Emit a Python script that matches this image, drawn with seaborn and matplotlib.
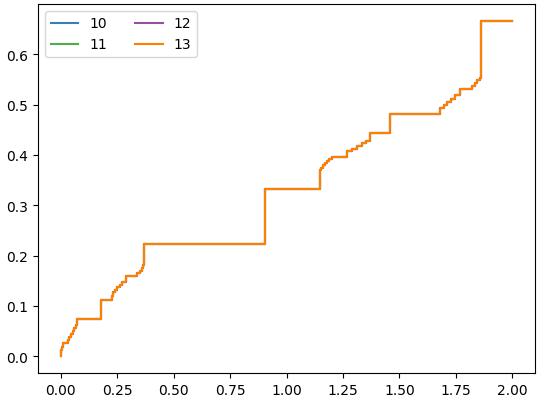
import numpy as np
import pandas as pd
import matplotlib
matplotlib.use("Agg")
import matplotlib.pyplot as plt
import seaborn as sns

series_names = ["10", "11", "12", "13"]
series_colors = ["#377eb8", "#4daf4a", "#984ea3", "#ff7f00"]

x_steps = [0.000, 0.003, 0.006, 0.009, 0.031, 0.037, 0.045, 0.053, 0.060, 0.066,
           0.071, 0.177, 0.226, 0.231, 0.240, 0.250, 0.262, 0.270, 0.288, 0.337,
           0.350, 0.360, 0.366, 0.368, 0.905, 1.147, 1.152, 1.160, 1.170, 1.180,
           1.190, 1.200, 1.268, 1.290, 1.310, 1.335, 1.350, 1.370, 1.459, 1.681,
           1.695, 1.710, 1.730, 1.747, 1.770, 1.823, 1.835, 1.845, 1.858, 1.862,
           2.000]
y_steps = [0.000, 0.012, 0.019, 0.026, 0.032, 0.038, 0.044, 0.050, 0.056, 0.062,
           0.074, 0.111, 0.119, 0.127, 0.132, 0.138, 0.142, 0.148, 0.159, 0.165,
           0.170, 0.176, 0.181, 0.222, 0.333, 0.370, 0.374, 0.379, 0.383, 0.387,
           0.391, 0.395, 0.407, 0.412, 0.417, 0.424, 0.427, 0.444, 0.481, 0.494,
           0.500, 0.506, 0.512, 0.519, 0.531, 0.537, 0.543, 0.549, 0.553, 0.6665,
           0.6665]

frames = []
for name in series_names:
    frames.append(pd.DataFrame({"x": x_steps, "y": y_steps, "series": name}))
df = pd.concat(frames, ignore_index=True)

fig = plt.figure(figsize=(5.59, 4.02), dpi=100)
ax = fig.add_axes([38 / 559, 1 - 374 / 402, (535 - 38) / 559, (374 - 5) / 402])
sns.lineplot(data=df, x="x", y="y", hue="series", hue_order=series_names,
             palette=dict(zip(series_names, series_colors)),
             estimator=None, sort=False, drawstyle="steps-post",
             linewidth=1.5, ax=ax)
ax.set_xlabel("")
ax.set_ylabel("")
ax.legend(loc="upper left", ncol=2, title=None)
fig.savefig("out.png", dpi=100)
